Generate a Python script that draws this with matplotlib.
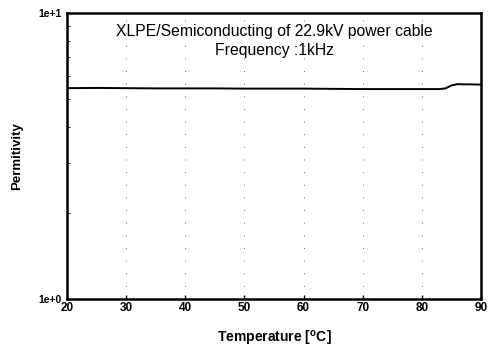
import matplotlib
matplotlib.use("Agg")
import matplotlib.pyplot as plt
from matplotlib.ticker import FixedLocator, LogLocator, NullFormatter

temperature = [20, 25, 30, 35, 40, 45, 50, 55, 60, 65, 70, 75, 80, 83, 84, 85, 86, 87, 88, 90]
permittivity = [5.46, 5.47, 5.46, 5.45, 5.45, 5.45, 5.44, 5.44, 5.44, 5.43, 5.42, 5.42, 5.42, 5.42, 5.45, 5.58, 5.64, 5.63, 5.63, 5.62]

xticks = [20, 30, 40, 50, 60, 70, 80, 90]
yticks = [1, 10]
ytick_labels = ["1e+0", "1e+1"]

plt.rcParams['font.family'] = ['Liberation Sans', 'DejaVu Sans']
fig = plt.figure(figsize=(4.94, 3.47), dpi=100)
ax = fig.add_axes([67/494, 1-299/347, (481-67)/494, (299-13)/347])
ax.plot(temperature, permittivity, color='black', lw=1.4)
ax.set_yscale('log')
ax.set_xlim(20, 90)
ax.set_ylim(1, 10)
ax.xaxis.set_major_locator(FixedLocator(xticks))
ax.set_xticklabels([str(t) for t in xticks], fontsize=8.5, fontweight='bold')
ax.yaxis.set_major_locator(FixedLocator(yticks))
ax.set_yticklabels(ytick_labels, fontsize=7.5, fontweight='bold')
ax.yaxis.set_minor_locator(LogLocator(base=10, subs=range(2, 10)))
ax.yaxis.set_minor_formatter(NullFormatter())
ax.tick_params(axis='both', which='major', direction='in', length=3, width=1)
ax.tick_params(axis='y', which='minor', direction='in', length=2, width=0.6)
ax.tick_params(axis='x', pad=2)
ax.tick_params(axis='y', pad=4)
ax.grid(axis='x', which='major', color='black', linestyle=(0, (1, 12)), lw=0.7, alpha=0.6)
for s in ax.spines.values():
    s.set_linewidth(1.8)
ax.set_xlabel("Temperature [$^{\\mathregular{o}}$C]", fontsize=10, fontweight='bold', labelpad=11)
ax.set_ylabel("Permitivity", fontsize=9.5, fontweight='bold', labelpad=11)
ax.text(0.5, 0.96, "XLPE/Semiconducting of 22.9kV power cable\nFrequency :1kHz",
        transform=ax.transAxes, ha='center', va='top', fontsize=11.3, linespacing=1.3)
fig.savefig("out.png", dpi=100)
